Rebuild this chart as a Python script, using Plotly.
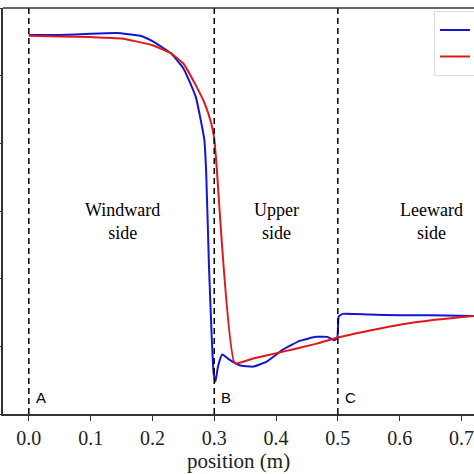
import plotly.graph_objects as go

# blue curve
x_blue = [0.0, 0.05, 0.10, 0.142, 0.18, 0.20, 0.23, 0.25, 0.27, 0.278, 0.284, 0.287,
          0.2915, 0.2957, 0.299, 0.302, 0.306, 0.313, 0.325, 0.341, 0.363, 0.384,
          0.411, 0.438, 0.465, 0.483, 0.494, 0.499, 0.5015, 0.508, 0.55, 0.60, 0.65, 0.72]
y_blue = [5.60, 5.60, 5.62, 5.63, 5.59, 5.51, 5.33, 5.11, 4.69, 4.35, 4.05, 3.56,
          2.18, 1.19, 0.60, 0.48, 0.70, 0.88, 0.80, 0.72, 0.70, 0.77,
          0.95, 1.08, 1.14, 1.14, 1.09, 1.12, 1.44, 1.48, 1.47, 1.46, 1.46, 1.45]

# red curve
x_red = [0.0, 0.05, 0.10, 0.15, 0.20, 0.23, 0.25, 0.27, 0.285, 0.295, 0.30, 0.3035, 0.3333,
         0.363, 0.401, 0.466, 0.50, 0.55, 0.60, 0.654, 0.72]
y_red = [5.59, 5.58, 5.57, 5.55, 5.45, 5.33, 5.18, 4.86, 4.58, 4.30, 4.07, 3.70, 0.75,
         0.82, 0.90, 1.04, 1.13, 1.23, 1.32, 1.39, 1.45]

series_names = ["Simulation", "Model"]
boundaries = [0.0, 0.3, 0.5]
point_labels = ["A", "B", "C"]
region_x = [0.151, 0.40, 0.652]
region_labels = ["Windward<br>side", "Upper<br>side", "Leeward<br>side"]
x_ticks = [0.0, 0.1, 0.2, 0.3, 0.4, 0.5, 0.6, 0.7]
y_ticks = [0, 1, 2, 3, 4, 5, 6]

fig = go.Figure()
fig.add_trace(go.Scatter(x=x_blue, y=y_blue, mode="lines", name=series_names[0],
                         line=dict(color="#1414d2", width=2, shape="spline", smoothing=0.4)))
fig.add_trace(go.Scatter(x=x_red, y=y_red, mode="lines", name=series_names[1],
                         line=dict(color="#e01818", width=2, shape="spline", smoothing=0.4)))

for b, lab in zip(boundaries, point_labels):
    fig.add_vline(x=b, line=dict(color="black", width=1.5, dash="6px,4px"))
    fig.add_annotation(x=b, y=0.25, text=lab, showarrow=False, xanchor="left", xshift=5,
                       font=dict(family="Liberation Sans", size=15, color="black"))

for rx, rl in zip(region_x, region_labels):
    fig.add_annotation(x=rx, y=2.85, text=rl, showarrow=False,
                       font=dict(family="Liberation Serif", size=18, color="black"))

# top spine
fig.add_shape(type="line", xref="paper", yref="paper", x0=0, x1=1, y0=1, y1=1,
              line=dict(color="#333", width=1.5))

fig.update_layout(
    width=474, height=474,
    margin=dict(l=3, r=0, t=8, b=60, autoexpand=False),
    paper_bgcolor="white", plot_bgcolor="white",
    showlegend=True,
    legend=dict(x=0.915, y=0.993, xanchor="left", yanchor="top",
                bgcolor="white", bordercolor="#dddddd", borderwidth=1,
                font=dict(family="Liberation Serif", size=18)),
    xaxis=dict(range=[-0.0418, 0.7203], tickvals=x_ticks, ticktext=[f"{t:.1f}" for t in x_ticks],
               showgrid=False, zeroline=False, showline=True, linecolor="#333", linewidth=1.5,
               ticks="outside", ticklen=5, tickcolor="#333",
               tickfont=dict(family="Liberation Serif", size=20, color="#222"),
               title=dict(text="position (m)", standoff=1,
                          font=dict(family="Liberation Serif", size=21, color="#222"))),
    yaxis=dict(range=[0, 6], tickvals=y_ticks, showticklabels=False,
               showgrid=False, zeroline=False, showline=True, linecolor="#333", linewidth=1.5,
               ticks="outside", ticklen=4, tickcolor="#333"),
)

# the page has a default body margin; remove it so the figure fills the window
fig.write_html("out.html", config={"displayModeBar": False},
               post_script="document.body.style.margin='0';")
